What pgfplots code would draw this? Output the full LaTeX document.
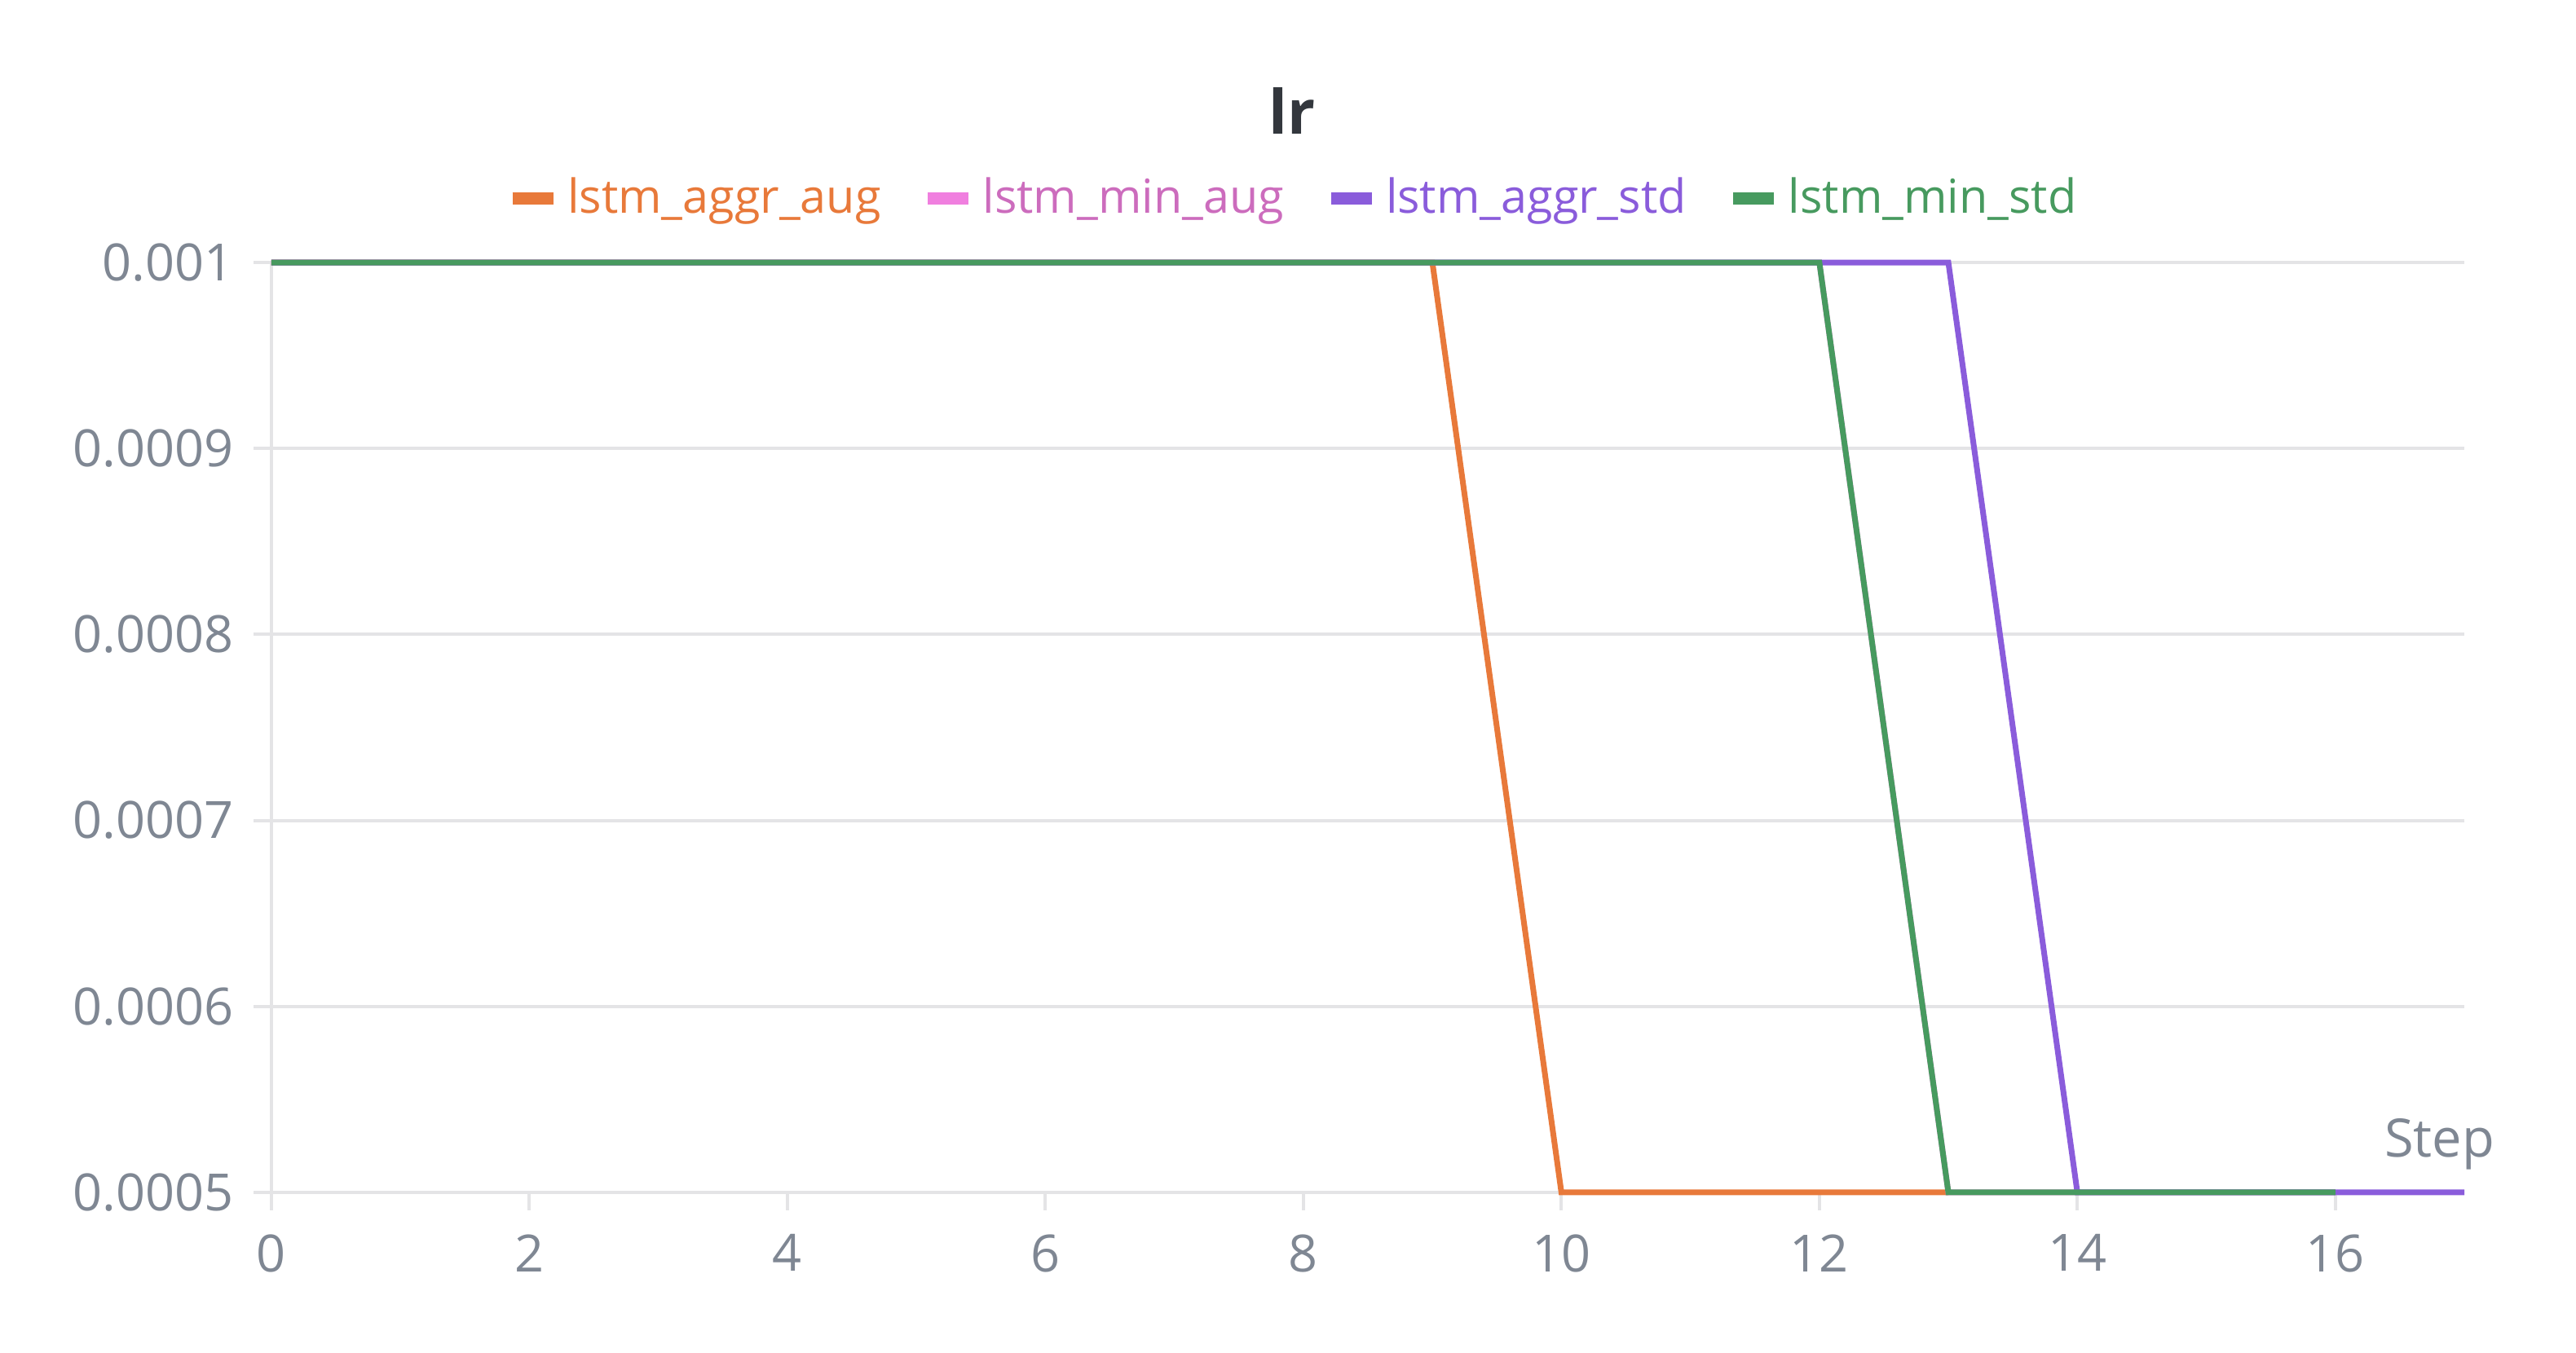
\documentclass[border=0pt]{standalone}
\usepackage{fontspec}
\setmainfont{Open Sans}
\usepackage{pgfplots}
\pgfplotsset{compat=1.18}

\definecolor{cOrange}{HTML}{E8793A}
\definecolor{cPink}{HTML}{F07FDF}
\definecolor{cPurple}{HTML}{8A5CDB}
\definecolor{cGreen}{HTML}{479A5F}
\definecolor{tickgrey}{HTML}{7F8793}
\definecolor{gridgrey}{HTML}{E4E4E6}
\definecolor{titlegrey}{HTML}{33373D}

\begin{document}
\begin{tikzpicture}
\path[use as bounding box] (-66.6pt,-39.4pt) rectangle (565.4pt,292.6pt);
\begin{axis}[
    scale only axis,
    width=538pt,
    height=228.2pt,
    at={(0pt,0pt)},
    anchor=south west,
    xmin=0, xmax=17,
    ymin=0.0005, ymax=0.001,
    xtick={0,2,...,16},
    ytick={0.0005,0.0006,0.0007,0.0008,0.0009,0.001},
    yticklabels={0.0005,0.0006,0.0007,0.0008,0.0009,0.001},
    scaled y ticks=false,
    /pgf/number format/assume math mode=true,
    axis lines=left,
    axis line style={gridgrey, line width=0.8pt, -},
    ymajorgrids,
    grid style={gridgrey, line width=0.8pt},
    tick align=outside,
    major tick length=4.4pt,
    tick style={gridgrey, line width=0.8pt},
    tick label style={font=\fontsize{12.6}{14}\selectfont, text=tickgrey},
    xticklabel style={yshift=-2.4pt},
    yticklabel style={xshift=-1.4pt},
    clip=false,
    legend style={draw=none, fill=none, at={(0.467,1.069)}, anchor=center,
        font=\fontsize{11.5}{14}\selectfont,
        /tikz/every even column/.append style={column sep=8pt}},
    legend columns=4,
    legend image code/.code={\draw[#1, line width=3pt] (0pt,0pt) -- (10pt,0pt);},
]
\addplot[cOrange, line width=1.4pt] coordinates {
  (0,0.001) (1,0.001) (2,0.001) (3,0.001) (4,0.001) (5,0.001) (6,0.001)
  (7,0.001) (8,0.001) (9,0.001) (10,0.0005) (11,0.0005) (12,0.0005) (13,0.0005)};
\addlegendentry{\textcolor{cOrange}{lstm\_aggr\_aug}}
\addplot[cPink, line width=1.4pt] coordinates {
  (0,0.001) (1,0.001) (2,0.001) (3,0.001) (4,0.001) (5,0.001) (6,0.001)
  (7,0.001) (8,0.001) (9,0.001) (10,0.001) (11,0.001) (12,0.001)
  (13,0.0005) (14,0.0005) (15,0.0005) (16,0.0005)};
\addlegendentry{\textcolor{cPink!85!black}{lstm\_min\_aug}}
\addplot[cPurple, line width=1.4pt] coordinates {
  (0,0.001) (1,0.001) (2,0.001) (3,0.001) (4,0.001) (5,0.001) (6,0.001)
  (7,0.001) (8,0.001) (9,0.001) (10,0.001) (11,0.001) (12,0.001) (13,0.001)
  (14,0.0005) (15,0.0005) (16,0.0005) (17,0.0005)};
\addlegendentry{\textcolor{cPurple}{lstm\_aggr\_std}}
\addplot[cGreen, line width=1.4pt] coordinates {
  (0,0.001) (1,0.001) (2,0.001) (3,0.001) (4,0.001) (5,0.001) (6,0.001)
  (7,0.001) (8,0.001) (9,0.001) (10,0.001) (11,0.001) (12,0.001)
  (13,0.0005) (14,0.0005) (15,0.0005) (16,0.0005)};
\addlegendentry{\textcolor{cGreen}{lstm\_min\_std}}
\node[anchor=center, font=\fontsize{15}{18}\selectfont\bfseries, text=titlegrey]
  at (axis description cs:0.4655,1.163) {lr};
\node[anchor=base east, font=\fontsize{13}{16}\selectfont, text=tickgrey]
  at (axis description cs:1.0204,0.0377) {Step};
\end{axis}
\end{tikzpicture}
\end{document}
